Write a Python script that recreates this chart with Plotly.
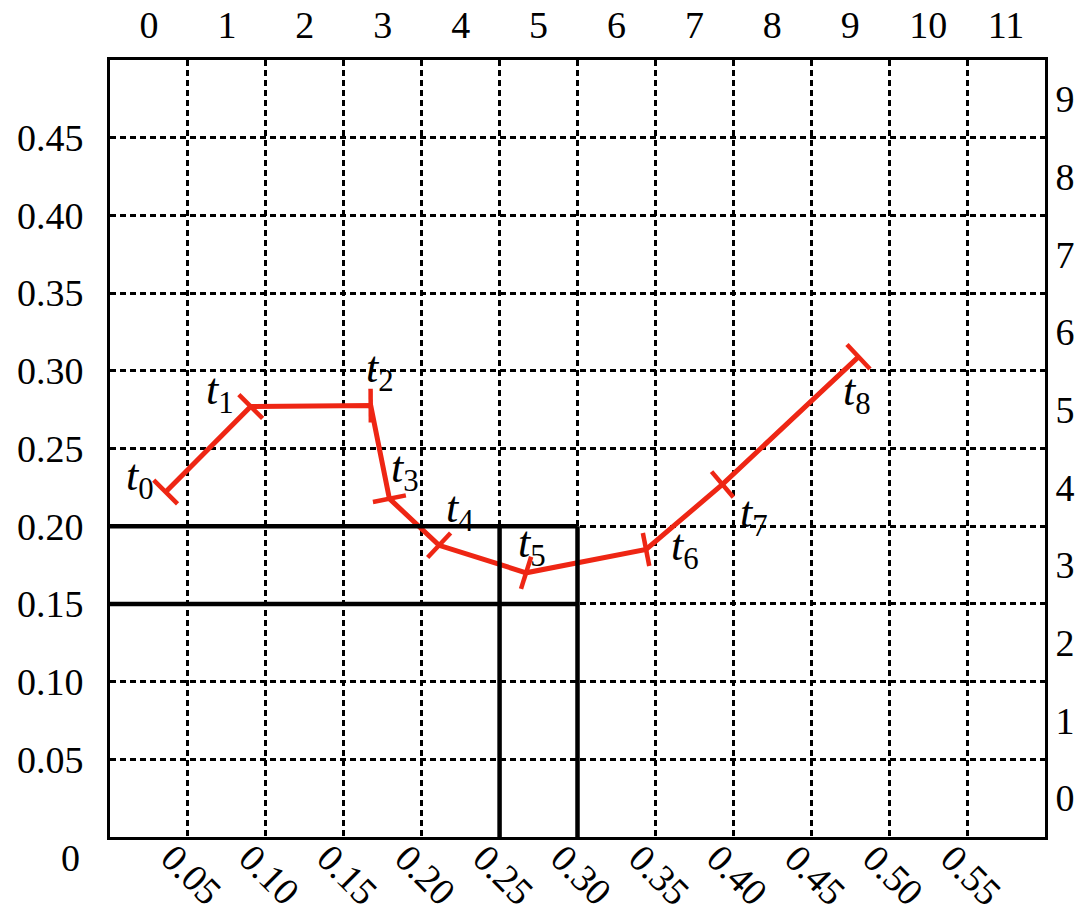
import math
import plotly.graph_objects as go

# ---- data ----
t_labels = ["t0", "t1", "t2", "t3", "t4", "t5", "t6", "t7", "t8"]
path_x = [0.0357, 0.0903, 0.1673, 0.1793, 0.2112, 0.2670, 0.3440, 0.3930, 0.4803]
path_y = [0.2220, 0.2770, 0.2776, 0.2177, 0.1877, 0.1700, 0.1850, 0.2269, 0.3090]

bottom_tickvals = [0.05, 0.10, 0.15, 0.20, 0.25, 0.30, 0.35, 0.40, 0.45, 0.50, 0.55]
bottom_ticktext = ["0.05", "0.10", "0.15", "0.20", "0.25", "0.30", "0.35", "0.40", "0.45", "0.50", "0.55"]
left_tickvals = [0.05, 0.10, 0.15, 0.20, 0.25, 0.30, 0.35, 0.40, 0.45]
left_ticktext = ["0.05", "0.10", "0.15", "0.20", "0.25", "0.30", "0.35", "0.40", "0.45"]
top_ticks = list(range(0, 12))
right_ticks = list(range(0, 10))

box_hlines_y = [0.15, 0.20]
box_vlines_x = [0.25, 0.30]
box_x_end = 0.30
box_y_end = 0.20

# label offsets (pixels) relative to each point
label_dx = [-26, -31, 9, 16, 21, 6, 39, 32, -1]
label_dy = [14, 14, 35, 28, 35, 27, 1, -31, -37]

FONT = "Liberation Serif"
RED = "rgb(238,38,20)"

W, H = 1085, 911
ML, MR, MT, MB = 110, 40, 60, 74
XR = [0, 0.6]
YR = [0, 0.5]
px = (W - ML - MR) / (XR[1] - XR[0])
py = (H - MT - MB) / (YR[1] - YR[0])

# tick-mark orientation: perpendicular to the incoming segment (outgoing for first point)
angles = []
n = len(path_x)
for i in range(n):
    a, b = (0, 1) if i == 0 else (i - 1, i)
    dx = (path_x[b] - path_x[a]) * px
    dys = -(path_y[b] - path_y[a]) * py
    angles.append(math.degrees(math.atan2(dys, dx)))

fig = go.Figure()

fig.add_trace(go.Scatter(
    x=path_x, y=path_y, mode="lines+markers",
    line=dict(color=RED, width=5),
    marker=dict(symbol="line-ns", size=24, angle=angles,
                line=dict(color=RED, width=4.5), color=RED),
    showlegend=False, hoverinfo="skip", cliponaxis=False,
))

# invisible trace on secondary axes
fig.add_trace(go.Scatter(x=[0], y=[0], xaxis="x2", yaxis="y2", mode="markers",
                         marker=dict(opacity=0), showlegend=False, hoverinfo="skip"))

shapes = []
for yv in box_hlines_y:
    shapes.append(dict(type="line", xref="x", yref="y", x0=0, x1=box_x_end, y0=yv, y1=yv,
                       line=dict(color="black", width=4.5)))
for xv in box_vlines_x:
    shapes.append(dict(type="line", xref="x", yref="y", x0=xv, x1=xv, y0=0, y1=box_y_end,
                       line=dict(color="black", width=4.5)))

annotations = []
for lab, x, y, dx, dy in zip(t_labels, path_x, path_y, label_dx, label_dy):
    annotations.append(dict(x=x, y=y, xref="x", yref="y", text="<i>t</i><sub>%s</sub>" % lab[1:],
                            showarrow=False, xshift=dx, yshift=dy,
                            font=dict(family=FONT, size=44, color="black")))
for v, txt in zip(bottom_tickvals, bottom_ticktext):
    annotations.append(dict(x=v, y=0, xref="x", yref="y", text=txt, showarrow=False,
                            textangle=45, xshift=4, yshift=-38,
                            font=dict(family=FONT, size=38, color="black")))
annotations.append(dict(x=0, y=0, xref="x", yref="y", text="0", showarrow=False,
                        xshift=-40, yshift=-21, font=dict(family=FONT, size=38, color="black")))

grid = dict(showgrid=True, gridcolor="black", gridwidth=2.6, griddash="6px,4px")

fig.update_layout(
    width=W, height=H,
    margin=dict(l=ML, r=MR, t=MT, b=MB, autoexpand=False),
    paper_bgcolor="white", plot_bgcolor="white",
    font=dict(family=FONT, size=38, color="black"),
    shapes=shapes, annotations=annotations,
    xaxis=dict(range=XR, tickvals=bottom_tickvals, showticklabels=False,
               zeroline=False, showline=True, linecolor="black", linewidth=3,
               ticks="", automargin=False, **grid),
    yaxis=dict(range=YR, tickvals=left_tickvals, ticktext=left_ticktext,
               zeroline=False, showline=True, linecolor="black", linewidth=3,
               ticks="", ticklabelstandoff=16, automargin=False, **grid),
    xaxis2=dict(range=[-0.5, 11.5], tickvals=top_ticks, overlaying="x", side="top",
                showgrid=False, zeroline=False, showline=True, linecolor="black", linewidth=3,
                ticks="", ticklabelstandoff=4, automargin=False),
    yaxis2=dict(range=[-0.5, 9.5], tickvals=right_ticks, overlaying="y", side="right",
                showgrid=False, zeroline=False, showline=True, linecolor="black", linewidth=3,
                ticks="", ticklabelstandoff=0, automargin=False),
)

fig.write_html("out.html")
